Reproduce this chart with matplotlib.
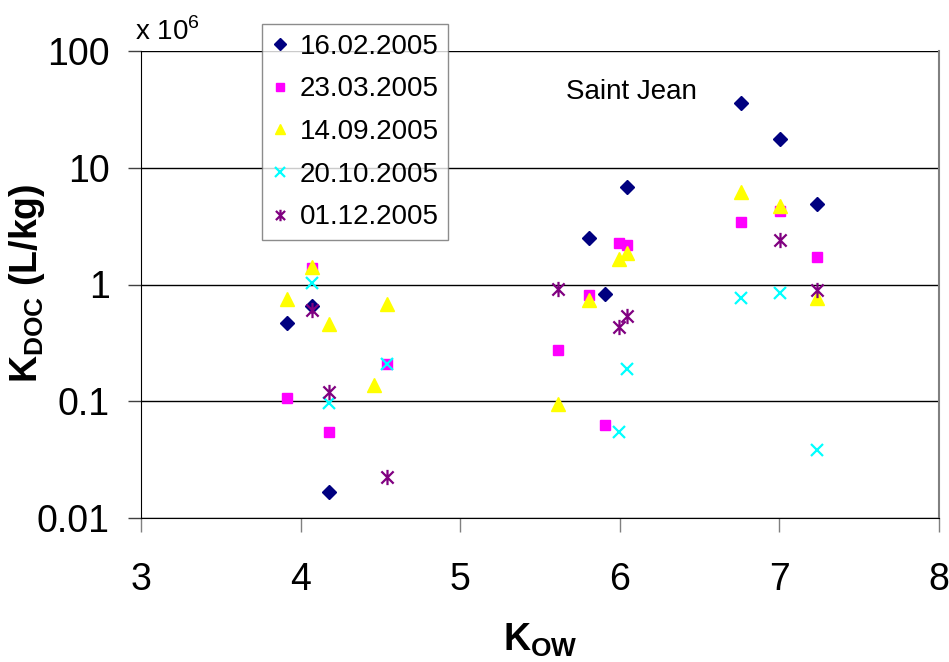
import matplotlib
matplotlib.use("Agg")
import matplotlib.pyplot as plt
from matplotlib.path import Path
import numpy as np

plt.rcParams['font.family'] = ['Liberation Sans', 'DejaVu Sans']
plt.rcParams['mathtext.fontset'] = 'custom'
plt.rcParams['mathtext.rm'] = 'Liberation Sans'
plt.rcParams['mathtext.bf'] = 'Liberation Sans:bold'

# ---- data ----
labels = ["16.02.2005", "23.03.2005", "14.09.2005", "20.10.2005", "01.12.2005"]

x_feb = [3.917, 4.073, 4.176, 5.806, 5.908, 6.043, 6.759, 7.006, 7.234]
y_feb = [0.47, 0.65, 0.0166, 2.5, 0.83, 6.9, 36, 17.5, 4.9]

x_mar = [3.917, 4.073, 4.176, 4.54, 5.614, 5.806, 5.908, 5.996, 6.043, 6.759, 7.006, 7.234]
y_mar = [0.106, 1.39, 0.054, 0.21, 0.277, 0.82, 0.062, 2.28, 2.2, 3.4, 4.3, 1.71]

x_sep = [3.917, 4.073, 4.176, 4.46, 4.54, 5.614, 5.806, 5.996, 6.043, 6.759, 7.006, 7.234]
y_sep = [0.75, 1.4, 0.46, 0.138, 0.68, 0.094, 0.74, 1.66, 1.87, 6.2, 4.7, 0.77]

x_oct = [4.073, 4.176, 4.54, 5.996, 6.043, 6.759, 7.006, 7.234]
y_oct = [1.02, 0.097, 0.21, 0.054, 0.19, 0.76, 0.85, 0.0385]

x_dec = [4.073, 4.176, 4.54, 5.614, 5.996, 6.043, 7.006, 7.234]
y_dec = [0.60, 0.12, 0.0225, 0.92, 0.43, 0.54, 2.4, 0.89]

xticks = [3, 4, 5, 6, 7, 8]
yticks = [0.01, 0.1, 1, 10, 100]
yticklabels = ["0.01", "0.1", "1", "10", "100"]

# asterisk marker: X plus vertical bar
star = Path([(-1, -1), (1, 1), (-1, 1), (1, -1), (0, -1.25), (0, 1.25)],
            [Path.MOVETO, Path.LINETO, Path.MOVETO, Path.LINETO, Path.MOVETO, Path.LINETO])

fig = plt.figure(figsize=(9.49, 6.62), dpi=100)
ax = fig.add_axes([141/949, 1-518/662, 798/949, 467/662])

ax.plot(x_feb, y_feb, linestyle='none', marker='D', ms=7.5, color='#000080', mec='#000080', label=labels[0], zorder=3)
ax.plot(x_mar, y_mar, linestyle='none', marker='s', ms=7.5, color='#FF00FF', mec='#FF00FF', label=labels[1], zorder=3)
ax.plot(x_sep, y_sep, linestyle='none', marker='^', ms=10, color='#FFFF00', mec='#FFFF00', label=labels[2], zorder=3)
ax.plot(x_oct, y_oct, linestyle='none', marker='x', ms=9, mew=1.6, color='#00FFFF', label=labels[3], zorder=3)
ax.plot(x_dec, y_dec, linestyle='none', marker=star, ms=11, mew=1.6, color='#800080', label=labels[4], zorder=3)

ax.set_yscale('log')
ax.set_ylim(0.01, 100)
ax.set_xlim(3, 8)
ax.set_xticks(xticks)
ax.set_xticklabels([str(t) for t in xticks])
ax.set_yticks(yticks)
ax.set_yticklabels(yticklabels)
ax.minorticks_off()
ax.yaxis.set_minor_locator(matplotlib.ticker.NullLocator())

ax.yaxis.grid(True, which='major', color='black', linewidth=1.0)
ax.set_axisbelow(True)

ax.spines['top'].set_visible(False)
ax.spines['right'].set_color('#808080')
ax.spines['right'].set_linewidth(1.5)
ax.spines['left'].set_color('black')
ax.spines['bottom'].set_color('black')

ax.tick_params(axis='y', direction='out', length=9.5, width=1, color='#404040',
               labelsize=27, pad=13)
ax.tick_params(axis='x', direction='out', length=10, width=1, color='#808080',
               labelsize=27, pad=22)

fig.text(27/949, 1-283/662, r'$\mathbf{K}_{\mathbf{DOC}}$ (L/kg)', rotation=90,
         ha='center', va='center', fontsize=27, fontweight='bold')
fig.text(540/949, 1-640/662, r'$\mathbf{K}_{\mathbf{OW}}$', ha='center', va='center',
         fontsize=27, fontweight='bold')

fig.text(135/949, 1-40/662, r'x 10$^{6}$', ha='left', va='baseline', fontsize=20)
ax.text(0.5326, 0.897, 'Saint Jean', transform=ax.transAxes, ha='left', va='baseline', fontsize=20)

leg = ax.legend(loc='upper left', bbox_to_anchor=(262/949, 1-24/662),
                bbox_transform=fig.transFigure, frameon=True, fancybox=False,
                edgecolor='#707070', fontsize=20, handlelength=0.6, handletextpad=0.4,
                labelspacing=0.6, borderpad=0.35, borderaxespad=0, markerscale=0.75)
leg.get_frame().set_linewidth(1.0)
leg.set_zorder(5)

fig.savefig('out.png', dpi=100)
